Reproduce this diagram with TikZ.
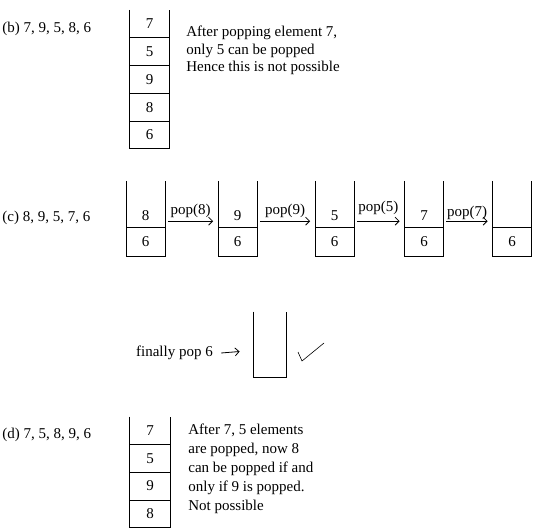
\documentclass[tikz,border=0pt]{standalone}
\usepackage{fontspec}
\setmainfont{Liberation Serif}
\usetikzlibrary{positioning,arrows.meta}
\begin{document}
\begin{tikzpicture}[x=1pt,y=-1pt,line width=0.8pt,>={Straight Barb[length=4pt,width=8pt]},
  every node/.style={font=\fontsize{15}{17.5}\selectfont,inner sep=0pt},
  cell/.style={minimum width=39pt,minimum height=27pt},
  note/.style={anchor=west,align=left}]
\useasboundingbox (0,0) rectangle (549,529);
% (b)
\node[anchor=west] (lb) at (2,29) {(b) 7, 9, 5, 8, 6};
\node[cell] (b1) at (149.5,23.7) {7};
\node[cell,below=0pt of b1] (b2) {5};
\node[cell,below=0pt of b2] (b3) {9};
\node[cell,below=0pt of b3] (b4) {8};
\node[cell,below=0pt of b4] (b5) {6};
\draw (b1.north west) -- (b5.south west) -- (b5.south east) -- (b1.north east);
\foreach \i in {1,...,4} \draw (b\i.south west) -- (b\i.south east);
\node[note] (nb) at (186,50.5) {After popping element 7,\\only 5 can be popped\\Hence this is not possible};
% (c)
\node[anchor=west] (lc) at (2,218) {(c) 8, 9, 5, 7, 6};
\foreach \x/\t [count=\i] in {145.5/8,237.5/9,334.5/5,424/7,512/{}} {
  \node[cell,minimum width=38pt,minimum height=28pt] (c\i b) at (\x,242) {6};
  \node[cell,minimum width=38pt,minimum height=24pt,above=0pt of c\i b] (c\i a) {\t};
  \draw ([yshift=22pt]c\i a.north west) -- (c\i b.south west) -- (c\i b.south east) -- ([yshift=22pt]c\i a.north east);
  \draw (c\i b.north west) -- (c\i b.north east);
}
\foreach \i/\j/\t/\d in {1/2/8/3pt,2/3/9/3pt,3/4/5/6pt,4/5/7/1pt}
  \draw[->] ([xshift=3pt,yshift=-6pt]c\i a.east) -- ([xshift=-5pt,yshift=-6pt]c\j a.west)
    node[midway,above=\d] {pop(\t)};
% finally
\node (fin) at (174.5,353) {finally pop 6};
\node[minimum width=32pt,minimum height=65pt] (fs) at (270,344.5) {};
\draw (fs.north west) -- (fs.south west) -- (fs.south east) -- (fs.north east);
\draw[->] ([xshift=8pt]fin.east) -- ([xshift=-14pt,yshift=-7pt]fs.west);
\draw[line width=0.6pt] (298,352) -- (302,361) -- (324,343);
% (d)
\node[anchor=west] (ld) at (2,435) {(d) 7, 5, 8, 9, 6};
\node[cell,minimum width=40pt] (d1) at (150,430.5) {7};
\node[cell,minimum width=40pt,below=0pt of d1] (d2) {5};
\node[cell,minimum width=40pt,below=0pt of d2] (d3) {9};
\node[cell,minimum width=40pt,below=0pt of d3] (d4) {8};
\draw (d1.north west) -- (d4.south west) -- (d4.south east) -- (d1.north east);
\foreach \i in {1,...,3} \draw (d\i.south west) -- (d\i.south east);
\node[note,font=\fontsize{15}{19}\selectfont] (nd) at (188,469) {After 7, 5 elements\\are popped, now 8\\can be popped if and\\only if 9 is popped.\\Not possible};
\end{tikzpicture}
\end{document}
